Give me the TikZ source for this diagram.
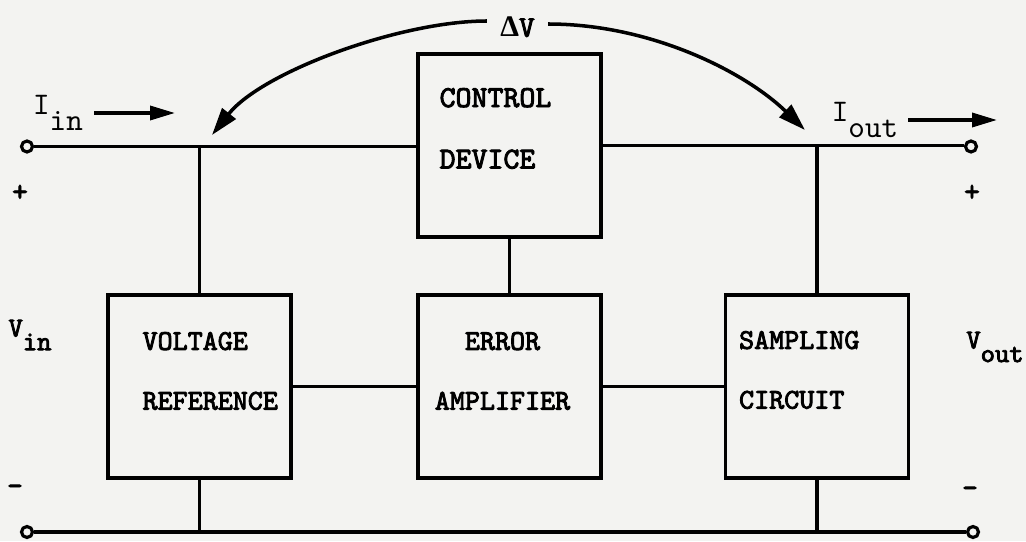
\documentclass[tikz,border=0pt]{standalone}
\usepackage{fontspec}
\setmonofont[Extension=.otf,BoldFont=lmmono10-regular,BoldFeatures={FakeBold=3}]{lmmono10-regular}
\newfontfamily\gk{Liberation Serif}
\usepackage{tikz}
\usetikzlibrary{arrows.meta,positioning}
\definecolor{Paper}{HTML}{F3F3F1}
\newcommand\lowr[1]{\raisebox{-0.5em}{#1}}

\begin{document}
\begin{tikzpicture}[node distance=2.47cm,
    b/.style={draw,line width=2pt,minimum size=3.66cm,inner sep=0pt},
    t/.style={font=\ttfamily\bfseries\fontsize{16.3}{34}\selectfont,align=left,inner sep=0pt},
    term/.style={circle,draw,line width=1.8pt,fill=Paper,minimum size=0.22cm,inner sep=0pt},
    w/.style={line width=2pt},
    lbl/.style={font=\ttfamily\fontsize{17.9}{18}\selectfont,inner ysep=0pt,inner xsep=0.22cm},
    vl/.style={font=\ttfamily\bfseries\fontsize{15.5}{16}\selectfont,inner sep=0pt},
    sg/.style={font=\ttfamily\bfseries\fontsize{17}{17}\selectfont,inner sep=0pt},
    arr/.style={line width=2pt,-{Triangle[length=0.5cm,width=0.28cm]}},
    bow/.style={line width=2pt,-{Triangle[length=0.55cm,width=0.34cm]}}]
  \fill[Paper] (0,0) rectangle (20.52,10.82);
  \useasboundingbox (0,0) rectangle (20.52,10.82);
  \node[b] (ref) at (3.99,3.09) {};
  \node[b,right=of ref] (amp) {};
  \node[b,right=2.42cm of amp] (samp) {};
  \node[b,above=1.09cm of amp] (ctrl) {};
  \node[t,anchor=west] (reft) at ([xshift=0.72cm,yshift=0.31cm]ref.west) {VOLTAGE\\REFERENCE};
  \node[t,align=center] (ampt) at ([xshift=-0.14cm,yshift=0.31cm]amp) {ERROR\\AMPLIFIER};
  \node[t,anchor=west] (sampt) at ([xshift=0.3cm,yshift=0.33cm]samp.west) {SAMPLING\\CIRCUIT};
  \node[t,anchor=west,font=\ttfamily\bfseries\fontsize{17.3}{35}\selectfont] (ctrlt)
    at ([xshift=0.46cm,yshift=0.34cm]ctrl.west) {CONTROL\\DEVICE};
  \node[term] (tl) at (0.54,7.89) {};
  \node[term] (tr) at (19.42,7.89) {};
  \node[term] (bl) at (0.54,0.18) {};
  \node[term] (br) at (19.46,0.18) {};
  \draw[w] (tl) -- (tl -| ctrl.west);
  \draw[w] (ctrl.east) -- (ctrl.east -| tr.west);
  \draw[w] (bl) -- (br);
  \draw[w] (ref.north) -- (ref.north |- tl);
  \draw[w] (ref.south) -- (ref.south |- bl);
  \draw[w] (samp.north) -- (samp.north |- tr);
  \draw[w] (samp.south) -- (samp.south |- br);
  \draw[w] (ctrl) -- (amp);
  \draw[w] (ref) -- (amp);
  \draw[w] (amp) -- (samp);
  \node[lbl] (iin) at (1.16,8.56) {I\lowr{in}};
  \node[lbl,inner xsep=0.2cm] (iout) at (17.3,8.42) {I\lowr{out}};
  \coordinate (iint) at (3.5,8.5);
  \coordinate (ioutt) at (19.94,8.4);
  \draw[arr] (iin.east) -- (iin.east -| iint);
  \draw[arr] (iout.east) -- (iout.east -| ioutt);
  \node[sg,inner xsep=0.26cm] (dv) at (10.35,10.28) {{\gk\bfseries\fontsize{17}{17}\selectfont Δ}V};
  \coordinate (tipl) at (4.24,8.12);
  \coordinate (tipr) at (16.1,8.22);
  \draw[bow] ([yshift=0.12cm]dv.west) .. controls +(-1.74,0) and +(1.0,1.26) .. (tipl);
  \draw[bow] ([yshift=0.06cm]dv.east) .. controls +(2.06,0) and +(-1.2,1.16) .. (tipr);
  \node[vl] (vin) at (0.6,4.12) {V\lowr{in}};
  \node[vl] (vout) at (19.9,3.88) {V\lowr{out}};
  \node[sg] (pl) at (0.4,6.96) {+};
  \node[sg] (pr) at (19.44,6.96) {+};
  \node[sg] (ml) at (0.3,1.02) {-};
  \node[sg] (mr) at (19.4,0.98) {-};
\end{tikzpicture}
\end{document}
